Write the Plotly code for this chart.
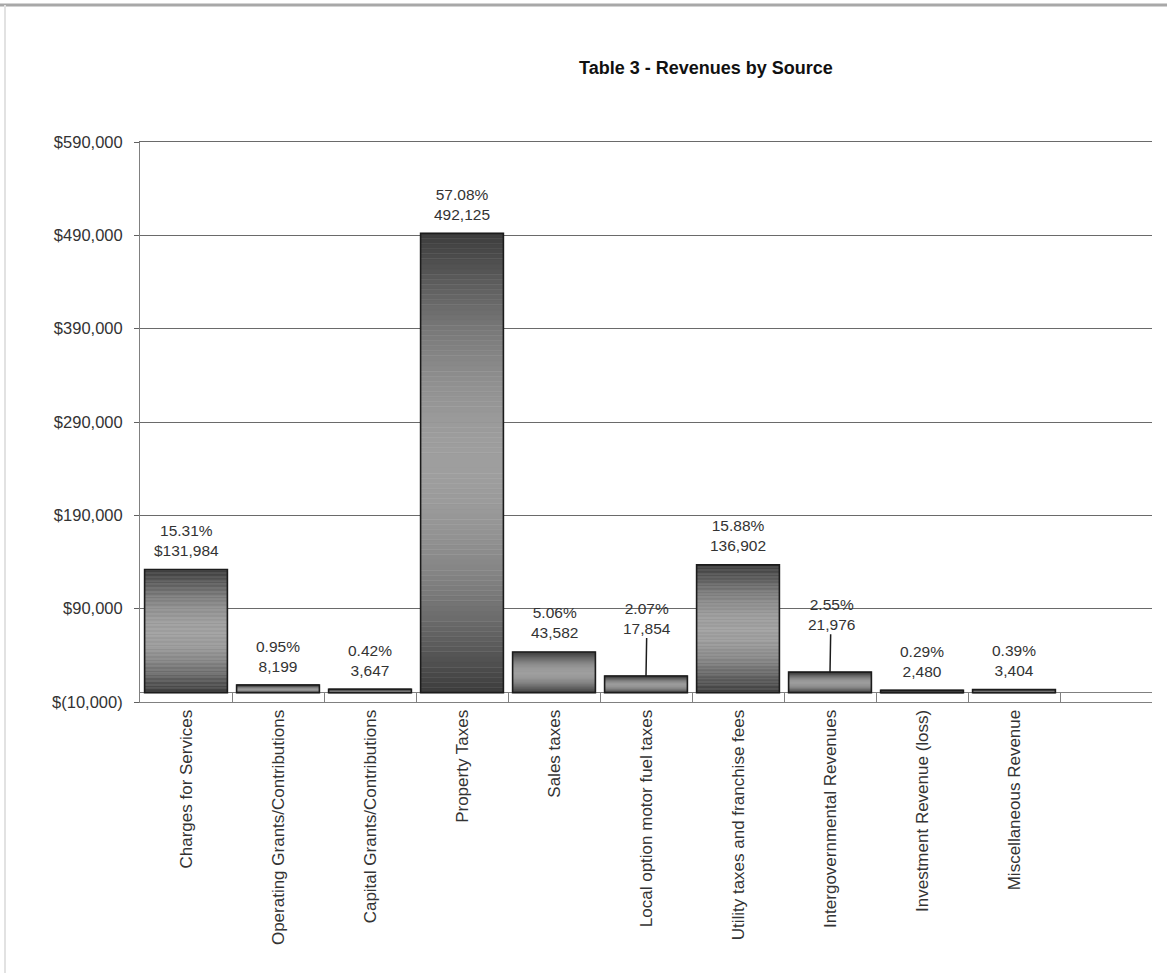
import math
import plotly.graph_objects as go

# ---------------- data ----------------
categories = [
    "Charges for Services",
    "Operating Grants/Contributions",
    "Capital Grants/Contributions",
    "Property Taxes",
    "Sales taxes",
    "Local option motor fuel taxes",
    "Utility taxes and franchise fees",
    "Intergovernmental Revenues",
    "Investment Revenue (loss)",
    "Miscellaneous Revenue",
    " ",
]
values = [131984, 8199, 3647, 492125, 43582, 17854, 136902, 21976, 2480, 3404, None]
percents = [15.31, 0.95, 0.42, 57.08, 5.06, 2.07, 15.88, 2.55, 0.29, 0.39, None]
dollar_prefix = [True, False, False, False, False, False, False, False, False, False, False]
leader_labels = [5, 7]  # indices whose labels use a leader line

y_ticks = [-10000, 90000, 190000, 290000, 390000, 490000, 590000]


def money(v):
    return f"$({abs(v):,})" if v < 0 else f"${v:,}"


y_ticktext = [money(v) for v in y_ticks]

FONT = "Liberation Sans, Arial, sans-serif"

fig = go.Figure()

# gradient bars: stacked slices (dark at top and bottom, light in middle)
N = 90
dark, light = 60, 158
for i in range(N):
    t = (i + 0.5) / N
    g = int(round(dark + (light - dark) * math.sin(math.pi * t)))
    col = f"rgb({g},{g},{g})"
    fig.add_trace(go.Bar(
        x=categories,
        y=[None if v is None else v / N for v in values],
        base=[None if v is None else v * i / N for v in values],
        marker=dict(color=col, line=dict(color=col, width=0.5)),
        width=0.9,
        hoverinfo="skip",
        showlegend=False,
    ))

# outline
fig.add_trace(go.Bar(
    x=categories,
    y=values,
    base=[0 if v is not None else None for v in values],
    marker=dict(color="rgba(0,0,0,0)", line=dict(color="#1c1c1c", width=1.6)),
    width=0.9,
    showlegend=False,
))

# data labels
for i, (c, v, p) in enumerate(zip(categories, values, percents)):
    if v is None:
        continue
    vt = f"${v:,}" if dollar_prefix[i] else f"{v:,}"
    txt = f"{p:.2f}%<br>{vt}"
    if i in leader_labels:
        fig.add_annotation(
            x=c, y=v, text=txt, showarrow=True, arrowhead=0, arrowwidth=1.5,
            arrowcolor="#1c1c1c", ax=1, ay=-58, standoff=0,
            font=dict(family=FONT, size=15.5, color="#333333"),
        )
    else:
        fig.add_annotation(
            x=c, y=v, text=txt, showarrow=False, yanchor="middle", yshift=29,
            font=dict(family=FONT, size=15.5, color="#333333"),
        )

# page border decoration
pw, ph = 1012, 560
fig.add_shape(type="line", xref="paper", yref="paper",
              x0=(0 - 140) / pw, x1=(1167 - 140) / pw,
              y0=(702 - 5) / ph, y1=(702 - 5) / ph,
              line=dict(color="#a8a8a8", width=3))
fig.add_shape(type="line", xref="paper", yref="paper",
              x0=(5 - 140) / pw, x1=(5 - 140) / pw,
              y0=(702 - 5) / ph, y1=(702 - 973) / ph,
              line=dict(color="#e2e2e2", width=2))

fig.update_layout(
    width=1167, height=973,
    margin=dict(l=140, r=15, t=142, b=271),
    paper_bgcolor="white", plot_bgcolor="white",
    barmode="overlay",
    font=dict(family=FONT, color="#333333"),
    title=dict(
        text="<b>Table 3 - Revenues by Source</b>",
        x=706 / 1167, xanchor="center", y=1 - 68 / 973, yanchor="middle",
        font=dict(family=FONT, size=18, color="#111111"),
    ),
    xaxis=dict(
        type="category",
        categoryorder="array", categoryarray=categories,
        range=[-0.5, 10.5],
        showline=True, linecolor="#808080", linewidth=1,
        ticks="inside", tickson="boundaries", ticklen=9, tickcolor="#808080",
        tickangle=-90,
        tickfont=dict(family=FONT, size=17, color="#333333"),
        showgrid=False,
    ),
    yaxis=dict(
        range=[-10000, 590000],
        tickvals=y_ticks, ticktext=y_ticktext,
        showgrid=True, gridcolor="#6a6a6a", gridwidth=1,
        zeroline=True, zerolinecolor="#808080", zerolinewidth=1,
        showline=True, linecolor="#808080", linewidth=1,
        ticks="outside", ticklen=5, tickcolor="#606060",
        ticklabelstandoff=8,
        tickfont=dict(family=FONT, size=16.5, color="#333333"),
    ),
    xaxis2=dict(overlaying="x", side="top", showline=True, linecolor="#6a6a6a",
                linewidth=1, showticklabels=False, ticks="", showgrid=False,
                range=[0, 1], anchor="y"),
)

# invisible trace to activate top axis line (590,000 gridline)
fig.add_trace(go.Scatter(x=[None], y=[None], xaxis="x2", showlegend=False, hoverinfo="skip"))

fig.write_html("out.html")
